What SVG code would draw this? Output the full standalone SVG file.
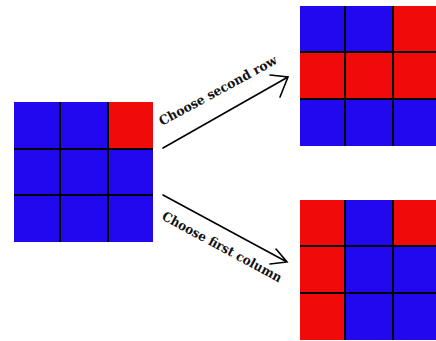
<svg xmlns="http://www.w3.org/2000/svg" width="436" height="341" viewBox="0 0 436 341">
<defs>
<style>
.b{fill:#2208ee}
.r{fill:#f00a0a}
.g{stroke:#000;stroke-width:2;fill:none}
.a{stroke:#000;stroke-width:1.6;fill:none;stroke-linecap:round}
.t{font-family:"DejaVu Serif","Liberation Serif",serif;font-weight:bold;font-size:13px;fill:#111}
</style>
</defs>
<rect width="436" height="341" fill="#fff"/>
<g id="grid-start">
<rect class="b" x="14" y="102" width="139" height="140"/>
<rect class="r" x="108" y="102" width="45" height="47"/>
<path class="g" d="M60,102V242M108,102V242M14,149H153M14,195H153"/>
</g>
<g id="grid-row">
<rect class="b" x="300" y="6" width="136" height="140"/>
<rect class="r" x="393" y="6" width="43" height="46"/>
<rect class="r" x="300" y="52" width="136" height="47"/>
<path class="g" d="M345,6V146M393,6V146M300,52H436M300,99H436"/>
</g>
<g id="grid-col">
<rect class="b" x="300" y="200" width="136" height="140"/>
<rect class="r" x="300" y="200" width="45" height="140"/>
<rect class="r" x="393" y="200" width="43" height="46"/>
<path class="g" d="M345,200V340M393,200V340M300,246H436M300,293H436"/>
</g>
<g id="connectors">
<path class="a" d="M163,148L288,77M270,75L288,77L280,97"/>
<path class="a" d="M163,195L287,262M276,249L287,262L270,264"/>
</g>
<text class="t" transform="translate(162,126) rotate(-28.5)" textLength="132" lengthAdjust="spacingAndGlyphs">Choose second row</text>
<text class="t" transform="translate(161,219) rotate(28.3)" textLength="134" lengthAdjust="spacingAndGlyphs">Choose first column</text>
</svg>
